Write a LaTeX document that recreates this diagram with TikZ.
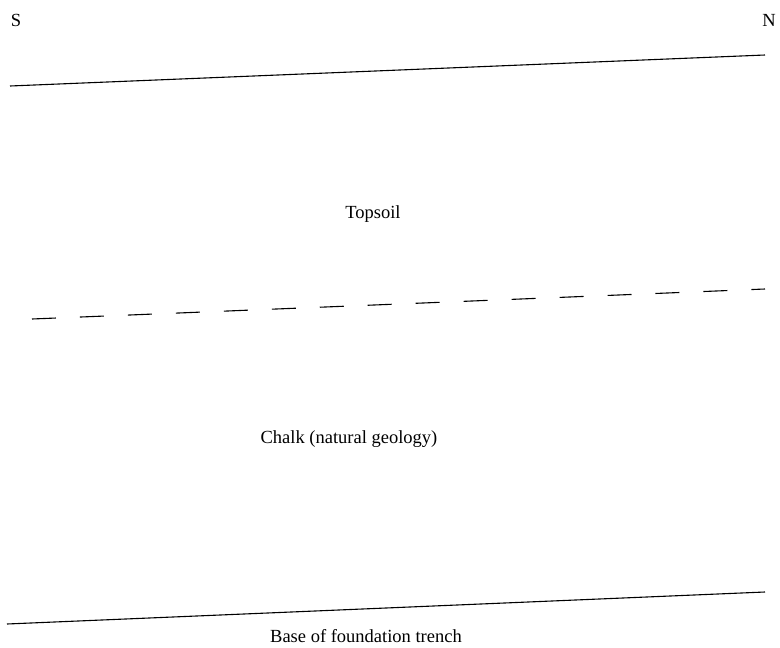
\documentclass[tikz,border=0pt]{standalone}
\usepackage{fontspec}
\setmainfont{Liberation Serif}
\begin{document}
\begin{tikzpicture}[x=1pt,y=-1pt,
  lbl/.style={inner sep=0pt,font=\fontsize{18.5}{22}\selectfont},
  bound/.style={line width=1.1pt},
  dashbound/.style={line width=1.1pt,dash pattern=on 24pt off 24pt}]
\useasboundingbox (0,0) rectangle (780,648);
\node[lbl] (S) at (16,20) {S};
\node[lbl] (N) at (769,20) {N};
\coordinate (t1) at (10,86);
\coordinate (t2) at (765,55);
\draw[bound] (t1) -- (t2);
\coordinate (d1) at (32,319);
\coordinate (d2) at (765,289);
\draw[dashbound] (d1) -- (d2);
\coordinate (b1) at (7,624);
\coordinate (b2) at (765,592);
\draw[bound] (b1) -- (b2);
\node[lbl] (top) at (373,214) {Topsoil};
\node[lbl] (chalk) at (349,439) {Chalk (natural geology)};
\node[lbl] (base) at (366,636) {Base of foundation trench};
\end{tikzpicture}
\end{document}
